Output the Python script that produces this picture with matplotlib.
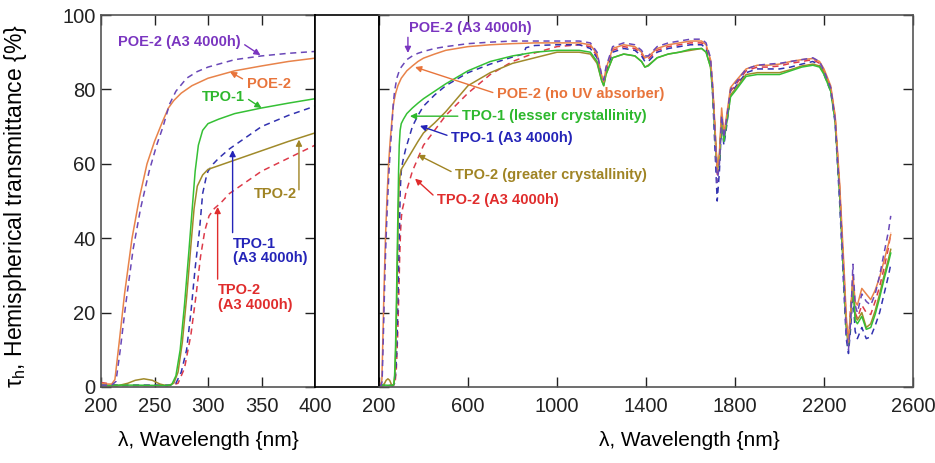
import numpy as np
import matplotlib
matplotlib.use("Agg")
import matplotlib.pyplot as plt

plt.rcParams['font.family'] = ['Liberation Sans', 'DejaVu Sans']
plt.rcParams['mathtext.fontset'] = 'custom'
plt.rcParams['mathtext.rm'] = 'Liberation Sans'
plt.rcParams['mathtext.it'] = 'Liberation Sans'

# UV-VIS part (200-900 nm), each series on its own grid
poe2_wl = [200, 205, 210, 213, 217, 222, 229, 236, 243, 250, 257, 263, 268, 275, 285,
           300, 325, 350, 375, 400, 450, 500, 600, 700, 800, 900]
poe2_uv = [1.0, 0.8, 0.8, 2, 12, 25, 40, 51, 60, 66, 71, 75, 77, 79, 81,
           83, 85, 86.3, 87.5, 88.4, 89.5, 90.5, 91.5, 92, 92.3, 92.5]

poe2a_wl = [200, 205, 210, 214, 218, 223, 230, 237, 245, 252, 258, 264, 270, 280, 290,
            300, 325, 350, 375, 400, 450, 500, 600, 700, 800, 900]
poe2a_uv = [0.5, 0.5, 0.5, 1.5, 10, 22, 37, 48, 58, 65, 70, 76, 79.5, 83, 84.8,
            86, 88, 89, 89.7, 90.2, 91, 91.5, 92.3, 92.7, 93, 93]

tpo1_wl = [200, 230, 260, 266, 270, 274, 278, 282, 285, 288, 291, 295, 300, 310, 325,
           350, 375, 400, 450, 500, 600, 700, 800, 900]
tpo1_uv = [0.5, 0.5, 0.4, 0.6, 3, 10, 22, 36, 47, 58, 65, 69, 70.8, 72, 73.5,
           75, 76.3, 77.5, 79.5, 81.5, 85, 87.5, 89, 90]

tpo1a_wl = [200, 230, 265, 270, 275, 280, 284, 288, 292, 295, 298, 300, 305, 310, 320,
            335, 350, 375, 400, 450, 500, 600, 700, 800, 850, 860, 900]
tpo1a_uv = [0.5, 0.5, 0.5, 1, 4, 10, 20, 32, 42, 52, 56, 58, 60, 61.5, 64,
            67, 70, 73, 75.5, 78.5, 81, 84.5, 86.8, 88.7, 89.5, 91.2, 91.8]

tpo2_wl = [200, 215, 225, 232, 240, 248, 255, 262, 268, 272, 276, 280, 284, 287, 290,
           295, 300, 325, 350, 375, 400, 450, 500, 600, 700, 800, 900]
tpo2_uv = [0.3, 0.3, 1.0, 1.8, 2.2, 1.8, 0.8, 0.3, 1.0, 4, 12, 24, 38, 48, 54,
           57, 58.5, 61, 63.5, 66, 68.3, 71, 74, 81, 84.5, 87, 88.5]

tpo2a_wl = [200, 205, 210, 215, 230, 265, 272, 278, 284, 289, 293, 297, 301, 306, 312,
            320, 335, 350, 375, 400, 450, 500, 600, 700, 800, 900]
tpo2a_uv = [1.2, 1.0, 0.6, 0.4, 0.4, 0.4, 1, 5, 14, 25, 35, 42, 46, 48, 49.5,
            52, 55, 58, 61.5, 65, 69, 73, 79, 84, 87.5, 89.8]

# NIR part (1000-2500 nm), common grid
nir_wl = [1000, 1100, 1150, 1180, 1200, 1210, 1220, 1250, 1300, 1350,
          1380, 1395, 1410, 1450, 1500, 1550, 1600, 1650, 1670, 1690,
          1700, 1710, 1720, 1730, 1740, 1750, 1760, 1780, 1800, 1850,
          1900, 1950, 2000, 2050, 2100, 2150, 2180, 2200, 2230, 2250,
          2270, 2290, 2300, 2310, 2320, 2330, 2340, 2350, 2370, 2390,
          2410, 2430, 2450, 2470, 2490, 2500]
poe2_nir = [92.5, 92.5, 92.0, 89.5, 84.0, 82.0, 85.5, 91.0, 92.0, 91.5,
            90.0, 88.5, 88.8, 91.0, 92.0, 92.5, 93.0, 93.0, 92.0, 88.0,
            81.0, 70.0, 58.0, 63.0, 75.0, 68.0, 72.0, 80.5, 82.0, 85.5,
            86.5, 86.5, 86.8, 87.5, 88.0, 88.3, 87.5, 85.5, 81.0, 73.0,
            55.0, 32.0, 19.0, 12.0, 20.0, 30.0, 23.0, 22.0, 26.5, 25.0,
            23.5, 26.0, 29.5, 34.0, 38.5, 41.0]
poe2a_nir = [93.0, 93.0, 92.5, 90.0, 84.0, 82.5, 86.0, 91.5, 92.5, 92.0,
             90.5, 89.0, 89.0, 91.5, 92.5, 93.0, 93.5, 93.5, 92.5, 88.5,
             80.0, 68.0, 55.0, 60.0, 73.0, 67.0, 71.0, 80.0, 81.5, 85.5,
             86.5, 86.8, 87.0, 87.5, 88.0, 88.5, 87.5, 85.0, 80.5, 72.0,
             52.0, 28.0, 15.0, 10.0, 18.0, 33.0, 22.0, 20.0, 25.0, 23.0,
             22.0, 25.0, 30.0, 36.0, 42.0, 46.0]
tpo2a_nir = [91.5, 92.0, 91.5, 89.0, 83.5, 82.0, 85.0, 90.5, 91.5, 91.0,
             89.5, 88.0, 88.2, 90.5, 91.5, 92.0, 92.5, 92.5, 91.5, 87.5,
             80.0, 69.0, 57.0, 61.0, 73.0, 67.0, 71.0, 79.5, 81.0, 85.0,
             86.0, 86.0, 86.3, 87.0, 87.5, 88.0, 87.0, 85.0, 80.5, 72.5,
             54.0, 30.0, 17.0, 11.0, 22.0, 28.0, 20.0, 18.5, 22.0, 20.0,
             19.5, 23.0, 27.0, 32.0, 37.5, 41.5]
tpo1a_nir = [92.0, 92.0, 91.0, 88.5, 83.0, 81.5, 84.5, 90.0, 91.0, 90.5,
             89.0, 87.5, 87.5, 90.0, 91.0, 91.5, 92.0, 92.0, 91.0, 86.5,
             78.0, 64.0, 50.0, 58.0, 71.0, 65.0, 69.0, 78.5, 80.5, 84.5,
             85.5, 85.5, 85.5, 86.0, 86.8, 87.5, 86.5, 84.0, 79.5, 71.0,
             50.0, 25.0, 13.0, 9.0, 16.0, 25.0, 15.0, 13.0, 16.0, 13.0,
             13.5, 16.5, 20.0, 25.0, 30.0, 33.0]
tpo1_nir = [90.5, 90.5, 90.0, 87.5, 82.5, 81.0, 84.0, 88.5, 89.5, 89.0,
            87.5, 86.0, 86.3, 88.5, 89.5, 90.0, 90.8, 91.0, 90.0, 86.0,
            79.0, 68.0, 58.0, 61.0, 72.0, 66.0, 70.0, 78.0, 79.5, 83.5,
            84.0, 84.0, 84.0, 85.0, 86.0, 86.5, 86.0, 84.0, 79.5, 71.5,
            52.0, 28.0, 16.0, 11.0, 19.0, 28.0, 18.0, 17.0, 19.0, 15.5,
            16.0, 19.5, 24.0, 29.0, 33.5, 36.0]
tpo2_nir = [90.0, 90.0, 89.5, 87.0, 82.5, 81.0, 84.0, 88.5, 89.5, 89.0,
            87.5, 86.0, 86.5, 88.5, 89.5, 90.0, 90.5, 91.0, 90.0, 86.0,
            79.5, 69.0, 59.0, 62.0, 73.0, 67.0, 70.5, 78.5, 80.0, 84.0,
            84.5, 84.5, 84.5, 85.3, 86.3, 86.8, 86.3, 84.5, 80.0, 72.0,
            53.0, 29.0, 17.0, 12.0, 20.0, 29.0, 19.0, 18.0, 20.0, 16.0,
            17.0, 20.5, 25.0, 30.0, 34.5, 37.0]

# (uv wl, uv values, nir values, colour, linestyle)
series = [
    (tpo2a_wl, tpo2a_uv, tpo2a_nir, '#dd3b4a', '--'),
    (tpo1a_wl, tpo1a_uv, tpo1a_nir, '#3232b0', '--'),
    (tpo2_wl, tpo2_uv, tpo2_nir, '#a08a2a', '-'),
    (tpo1_wl, tpo1_uv, tpo1_nir, '#35c035', '-'),
    (poe2_wl, poe2_uv, poe2_nir, '#e8834a', '-'),
    (poe2a_wl, poe2a_uv, poe2a_nir, '#6a48b8', '--'),
]

fig = plt.figure(figsize=(9.35, 4.63), dpi=100)
bottom, height = 1 - 387 / 463, (387 - 15) / 463
axL = fig.add_axes([101 / 935, bottom, 214 / 935, height])
axM = fig.add_axes([315 / 935, bottom, 64 / 935, height])
axR = fig.add_axes([379 / 935, bottom, 534 / 935, height])

for wl, uv, nir, c, ls in series:
    x = np.array(wl + nir_wl)
    y = np.array(uv + nir)
    for ax in (axL, axR):
        ax.plot(x, y, color=c, ls=ls, lw=1.1, dashes=(4, 3) if ls == '--' else (None, None))

for ax in (axL, axR):
    ax.set_ylim(0, 100)
    ax.tick_params(direction='in', length=7, width=1, top=True, right=True,
                   labelsize=14.5, colors='#222222')
    ax.tick_params(axis='x', pad=7)
    ax.tick_params(axis='y', pad=4)
    for s in ax.spines.values():
        s.set_color('#555555')
        s.set_linewidth(1.2)

axL.set_xlim(200, 400)
axL.set_xticks([200, 250, 300, 350, 400])
axL.set_yticks([0, 20, 40, 60, 80, 100])
axL.spines['right'].set_color('black')

axR.set_xlim(200, 2600)
axR.set_xticks([200, 600, 1000, 1400, 1800, 2200, 2600])
axR.set_yticks([0, 20, 40, 60, 80, 100])
axR.tick_params(labelleft=False)
axR.spines['left'].set_color('black')

axM.set_xticks([])
axM.set_yticks([])
for s in axM.spines.values():
    s.set_color('black')
    s.set_linewidth(1.2)

axL.set_ylabel(r'τ$_\mathrm{h}$, Hemispherical transmittance {%}', fontsize=16.5)
axL.yaxis.set_label_coords(-0.335, 0.485)
fig.text(208 / 935, 1 - 441 / 463, 'λ, Wavelength {nm}', fontsize=15, ha='center', va='center')
fig.text(689 / 935, 1 - 441 / 463, 'λ, Wavelength {nm}', fontsize=15, ha='center', va='center')

def note(ax, text, xy, xytext, color, ha='left', relpos=(0.5, 0.5)):
    ax.annotate(text, xy=xy, xytext=xytext, color=color, fontsize=10.5,
                fontweight='bold', ha=ha, va='center',
                arrowprops=dict(arrowstyle='-|>', color=color, lw=1,
                                mutation_scale=9, relpos=relpos, shrinkA=1, shrinkB=0))

def arrow(ax, xy, xytext, color):
    ax.annotate('', xy=xy, xytext=xytext,
                arrowprops=dict(arrowstyle='-|>', color=color, lw=1,
                                mutation_scale=9, shrinkA=0, shrinkB=0))

# left panel labels
note(axL, 'POE-2 (A3 4000h)', (349, 89.2), (216, 92.7), '#7a35c0', relpos=(1, 0.5))
note(axL, 'POE-2', (320.6, 84.7), (336, 81.5), '#e8743b', relpos=(0, 0.7))
note(axL, 'TPO-1', (350, 75), (294, 78), '#2db82d', relpos=(1, 0.5))
axL.text(383, 52, 'TPO-2', color='#a08424', fontsize=10.5, fontweight='bold', ha='right', va='center')
arrow(axL, (385, 66.5), (385, 53), '#a08424')
axL.text(323, 36.5, 'TPO-1\n(A3 4000h)', color='#2424b8', fontsize=10.5, fontweight='bold',
         ha='left', va='center', linespacing=1.05)
arrow(axL, (323, 63.7), (323, 41.5), '#2424b8')
axL.text(309, 24, 'TPO-2\n(A3 4000h)', color='#e02c2c', fontsize=10.5, fontweight='bold',
         ha='left', va='center', linespacing=1.05)
arrow(axL, (309, 48.4), (309, 29), '#e02c2c')

# right panel labels
axR.text(335, 96.5, 'POE-2 (A3 4000h)', color='#7a35c0', fontsize=10.5, fontweight='bold',
         ha='left', va='center')
arrow(axR, (330, 89.8), (330, 94), '#7a35c0')
note(axR, 'POE-2 (no UV absorber)', (362, 86), (730, 78.8), '#e8743b', relpos=(0, 0.5))
note(axR, 'TPO-1 (lesser crystallinity)', (339, 72.8), (573, 72.8), '#2db82d', relpos=(0, 0.5))
note(axR, 'TPO-1 (A3 4000h)', (384, 70.2), (524, 66.9), '#2424b8', relpos=(0, 0.6))
note(axR, 'TPO-2 (greater crystallinity)', (375, 62.4), (542, 57), '#a08424', relpos=(0, 0.6))
note(axR, 'TPO-2 (A3 4000h)', (362, 56), (460, 50.3), '#e02c2c', relpos=(0, 0.6))

fig.savefig('out.png', dpi=100)
